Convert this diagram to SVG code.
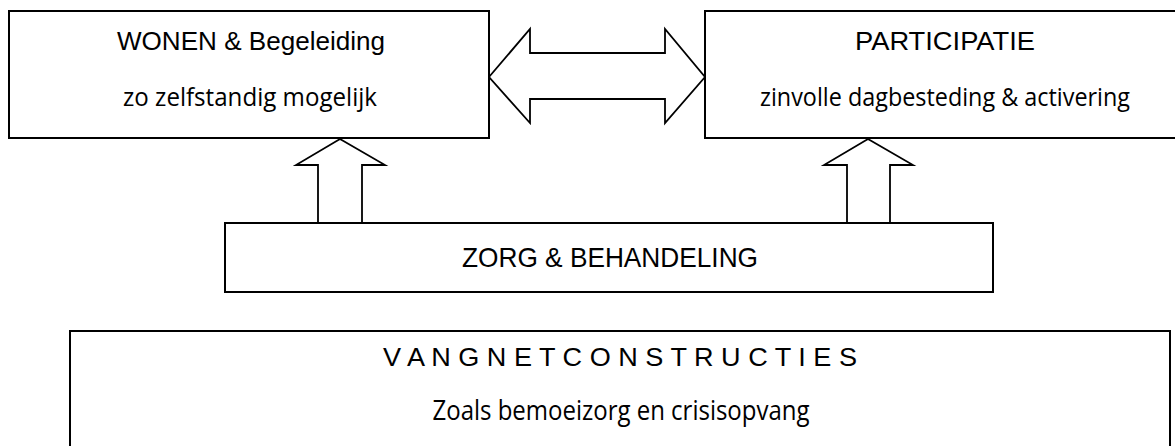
<svg xmlns="http://www.w3.org/2000/svg" width="1175" height="446" viewBox="0 0 1175 446">
<style>
.box{fill:#fff;stroke:#000;stroke-width:2}
.arr{fill:#fff;stroke:#000;stroke-width:1.8;stroke-linejoin:miter}
.ar{font-family:"Liberation Sans",Arial,sans-serif;fill:#000;text-anchor:middle}
.ca{font-family:"Open Sans","Noto Sans",sans-serif;fill:#000;text-anchor:middle}
</style>
<rect width="1175" height="446" fill="#fff"/>
<g id="connectors">
<polygon class="arr" points="489,77 530,29 530,53 665,53 665,29 705,77 665,123 665,99 530,99 530,123"/>
<polygon class="arr" points="340,139 385,165 362,165 362,223 318,223 318,165 296,165"/>
<polygon class="arr" points="868,139 913,165 890,165 890,223 847,223 847,165 824,165"/>
</g>
<g id="wonen">
<rect class="box" x="9" y="11" width="480" height="127"/>
<text class="ar" x="251" y="50" font-size="26" textLength="268" lengthAdjust="spacingAndGlyphs">WONEN &amp; Begeleiding</text>
<text class="ca" x="250" y="106" font-size="26" textLength="254" lengthAdjust="spacingAndGlyphs">zo zelfstandig mogelijk</text>
</g>
<g id="participatie">
<rect class="box" x="705" y="11" width="480" height="127"/>
<text class="ar" x="945" y="50" font-size="26" textLength="180" lengthAdjust="spacingAndGlyphs">PARTICIPATIE</text>
<text class="ca" x="945" y="106" font-size="26" textLength="370" lengthAdjust="spacingAndGlyphs">zinvolle dagbesteding &amp; activering</text>
</g>
<g id="zorg">
<rect class="box" x="225" y="223" width="768" height="69"/>
<text class="ar" x="610" y="267" font-size="28" textLength="296" lengthAdjust="spacingAndGlyphs">ZORG &amp; BEHANDELING</text>
</g>
<g id="vangnet">
<rect class="box" x="70" y="331" width="1100" height="130"/>
<text class="ar" x="620" y="366" font-size="26" textLength="474" lengthAdjust="spacingAndGlyphs">V A N G N E T C O N S T R U C T I E S</text>
<text class="ca" x="621" y="420" font-size="27" textLength="377" lengthAdjust="spacingAndGlyphs">Zoals bemoeizorg en crisisopvang</text>
</g>
</svg>
